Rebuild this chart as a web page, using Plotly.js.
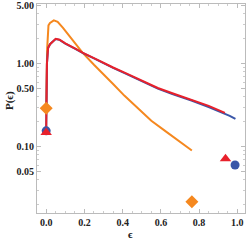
<!DOCTYPE html>
<html><head><meta charset="utf-8">
<script src="https://cdn.plot.ly/plotly-3.0.1.min.js"></script>
<style>html,body{margin:0;padding:0;background:#fff}#c{width:249px;height:241px}</style>
</head><body><div id="c"></div>
<script>
const epsRed = [0, 0.004, 0.01, 0.02, 0.035, 0.05, 0.07, 0.1, 0.15, 0.19, 0.25, 0.3, 0.35, 0.41, 0.5, 0.584, 0.66, 0.76, 0.85, 0.935];
const pRed   = [0.15, 1.0, 1.55, 1.72, 1.85, 2.0, 1.95, 1.76, 1.53, 1.36, 1.17, 1.02, 0.9, 0.78, 0.62, 0.51, 0.44, 0.37, 0.31, 0.255];
const epsBlue = [0, 0.004, 0.01, 0.02, 0.035, 0.05, 0.07, 0.1, 0.15, 0.19, 0.25, 0.3, 0.35, 0.41, 0.5, 0.584, 0.66, 0.76, 0.85, 0.935, 0.96, 0.99];
const pBlue   = [0.155, 1.0, 1.55, 1.72, 1.85, 1.98, 1.94, 1.75, 1.52, 1.35, 1.16, 1.01, 0.89, 0.77, 0.61, 0.5, 0.43, 0.36, 0.3, 0.25, 0.235, 0.216];
const epsOrange = [0, 0.005, 0.012, 0.02, 0.04, 0.06, 0.088, 0.12, 0.15, 0.19, 0.25, 0.3, 0.35, 0.41, 0.48, 0.55, 0.62, 0.69, 0.762];
const pOrange   = [0.29, 1.5, 2.9, 3.1, 3.33, 3.2, 2.71, 2.17, 1.76, 1.36, 0.97, 0.75, 0.57, 0.41, 0.29, 0.205, 0.156, 0.119, 0.09];
const ptsBlueX = [0, 0.988], ptsBlueY = [0.155, 0.060];
const ptsRedX = [0, 0.938], ptsRedY = [0.148, 0.0717];
const ptsOrangeX = [0, 0.762], ptsOrangeY = [0.29, 0.0217];
const yTickVals = [0.05, 0.1, 0.5, 1, 5];
const yTickText = ["0.05", "0.10", "0.50", "1.00", "5.00"];
const xTickVals = [0, 0.2, 0.4, 0.6, 0.8, 1.0];
const xTickText = ["0.0", "0.2", "0.4", "0.6", "0.8", "1.0"];

const cRed = '#E8212B', cBlue = '#3A56A8', cOrange = '#F5881F';
const traces = [
  {x: epsOrange, y: pOrange, mode: 'lines', line: {color: cOrange, width: 2}},
  {x: epsBlue, y: pBlue, mode: 'lines', line: {color: cBlue, width: 2}},
  {x: epsRed, y: pRed, mode: 'lines', line: {color: cRed, width: 2}},
  {x: ptsBlueX, y: ptsBlueY, mode: 'markers', marker: {color: cBlue, size: 9, symbol: 'circle'}},
  {x: ptsRedX, y: ptsRedY, mode: 'markers', marker: {color: cRed, size: 10, symbol: 'triangle-up'}},
  {x: ptsOrangeX, y: ptsOrangeY, mode: 'markers', marker: {color: cOrange, size: 10, symbol: 'diamond'}}
];
const ff = 'Liberation Serif, Times New Roman, serif';
const tfont = {family: ff, size: 11, color: '#222', weight: 'bold'};
const layout = {
  width: 249, height: 241,
  margin: {l: 37, r: 4, t: 4, b: 28},
  showlegend: false,
  paper_bgcolor: '#fff', plot_bgcolor: '#fff',
  font: {family: ff, size: 10, color: '#222'},
  xaxis: {
    range: [-0.048, 1.04], tickvals: xTickVals, ticktext: xTickText,
    showgrid: false, zeroline: false, showline: true, mirror: 'ticks',
    linecolor: '#bbb', linewidth: 1, ticks: 'inside', ticklen: 4, tickcolor: '#bbb',
    minor: {dtick: 0.05, ticks: 'inside', ticklen: 2, tickcolor: '#ccc'},
    tickfont: {family: ff, size: 10, color: '#222', weight: 'bold'}
  },
  yaxis: {
    type: 'log', range: [-1.8, 0.72], tickvals: yTickVals, ticktext: yTickText,
    ticklabeloverflow: 'allow',
    showgrid: false, zeroline: false, showline: true, mirror: 'ticks',
    linecolor: '#bbb', linewidth: 1, ticks: 'inside', ticklen: 4, tickcolor: '#bbb',
    minor: {tickvals: [0.02,0.03,0.04,0.06,0.07,0.08,0.09,0.2,0.3,0.4,0.6,0.7,0.8,0.9,2,3,4], ticks: 'inside', ticklen: 2, tickcolor: '#ccc'},
    tickfont: {family: ff, size: 10, color: '#222', weight: 'bold'}
  },
  annotations: [
    {text: 'ϵ', xref: 'paper', yref: 'paper', x: 0.45, y: -0.1, yanchor: 'middle', xanchor: 'center', showarrow: false, font: tfont},
    {text: 'P(ϵ)', xref: 'paper', yref: 'paper', x: -0.135, y: 0.54, textangle: -90, xanchor: 'center', yanchor: 'middle', showarrow: false, font: tfont}
  ]
};
Plotly.newPlot('c', traces, layout, {displayModeBar: false, staticPlot: true});
</script></body></html>
